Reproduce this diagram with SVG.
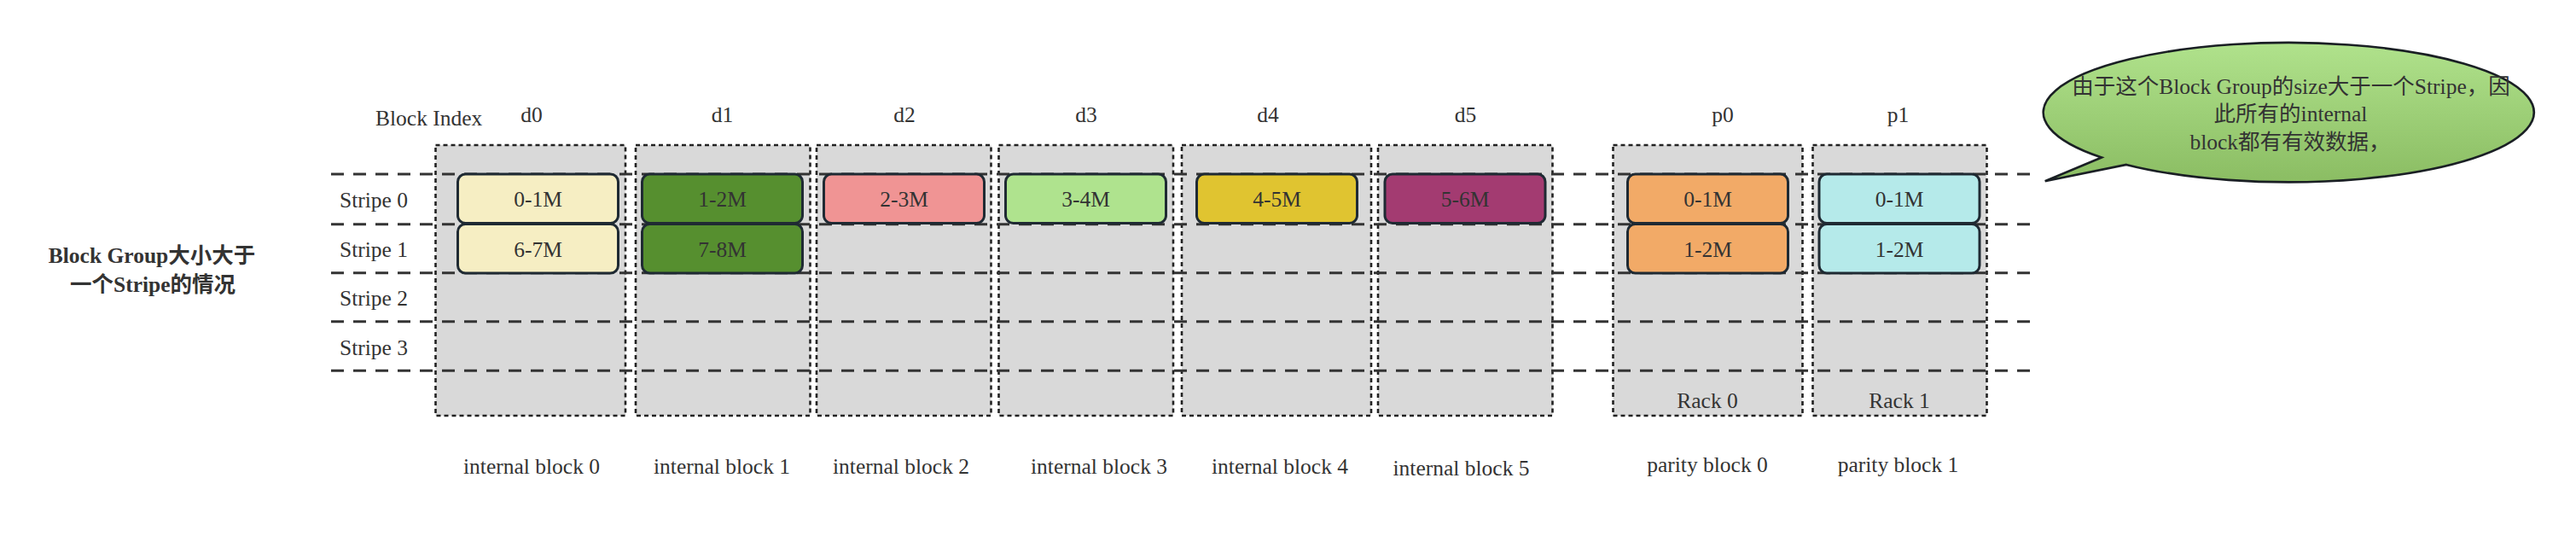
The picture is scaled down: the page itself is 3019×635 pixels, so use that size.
<svg xmlns="http://www.w3.org/2000/svg" width="3019" height="635" viewBox="0 0 3019 635">
<defs>
<linearGradient id="callg" gradientUnits="userSpaceOnUse" x1="0" y1="50" x2="0" y2="213">
<stop offset="0" stop-color="#b0e28c"/>
<stop offset="1" stop-color="#8bbd63"/>
</linearGradient>
<style>
text{font-family:"Liberation Serif","Noto Sans CJK SC",serif;font-size:25.5px;fill:#333;}
.mid{text-anchor:middle;}
.bold{font-weight:bold;}
.col{fill:#d9d9d9;stroke:#222;stroke-width:2.6;stroke-dasharray:5 4;}
.row{stroke:#333;stroke-width:3;stroke-dasharray:15 11;fill:none;}
.box{stroke:#1f2a33;stroke-width:3;}
</style>
</defs>
<rect width="3019" height="635" fill="#fff"/>

<g id="title">
<text class="mid bold" x="178" y="308">Block Group大小大于</text>
<text class="mid bold" x="179" y="341.5">一个Stripe的情况</text>
</g>

<g id="header">
<text x="440" y="146.5">Block Index</text>
<text class="mid" x="623" y="143">d0</text>
<text class="mid" x="846.5" y="143">d1</text>
<text class="mid" x="1060" y="143">d2</text>
<text class="mid" x="1273" y="143">d3</text>
<text class="mid" x="1486" y="143">d4</text>
<text class="mid" x="1717.5" y="143">d5</text>
<text class="mid" x="2019" y="143">p0</text>
<text class="mid" x="2224.5" y="143">p1</text>
</g>

<g id="columns">
<rect id="col-d0" class="col" x="510.5" y="170" width="222.5" height="317"/>
<rect id="col-d1" class="col" x="745" y="170" width="204.5" height="317"/>
<rect id="col-d2" class="col" x="957" y="170" width="204.5" height="317"/>
<rect id="col-d3" class="col" x="1170.5" y="170" width="204.5" height="317"/>
<rect id="col-d4" class="col" x="1385" y="170" width="222" height="317"/>
<rect id="col-d5" class="col" x="1615" y="170" width="204.5" height="317"/>
<rect id="col-p0" class="col" x="1890.5" y="170" width="222" height="317"/>
<rect id="col-p1" class="col" x="2124.5" y="170" width="204" height="317"/>
</g>

<g id="connectors">
<line class="row" x1="388" y1="204" x2="2381" y2="204"/>
<line class="row" x1="388" y1="262.7" x2="2381" y2="262.7"/>
<line class="row" x1="388" y1="319.7" x2="2381" y2="319.7"/>
<line class="row" x1="388" y1="376.7" x2="2381" y2="376.7"/>
<line class="row" x1="388" y1="434.3" x2="2381" y2="434.3"/>
</g>

<g id="stripes">
<text x="398" y="243.3">Stripe 0</text>
<text x="398" y="301">Stripe 1</text>
<text x="398" y="358">Stripe 2</text>
<text x="398" y="415.7">Stripe 3</text>
</g>

<g id="blk-d0-s0"><rect class="box" x="536.5" y="204" width="188" height="57.5" rx="9" fill="#f6eec3"/><text class="mid" x="630.5" y="242">0-1M</text></g>
<g id="blk-d0-s1"><rect class="box" x="536.5" y="262.5" width="188" height="57.5" rx="9" fill="#f6eec3"/><text class="mid" x="630.5" y="300.5">6-7M</text></g>
<g id="blk-d1-s0"><rect class="box" x="752.5" y="204" width="188" height="57.5" rx="9" fill="#568f2f"/><text class="mid" x="846.5" y="242">1-2M</text></g>
<g id="blk-d1-s1"><rect class="box" x="752.5" y="262.5" width="188" height="57.5" rx="9" fill="#568f2f"/><text class="mid" x="846.5" y="300.5">7-8M</text></g>
<g id="blk-d2-s0"><rect class="box" x="965.5" y="204" width="188" height="57.5" rx="9" fill="#f09494"/><text class="mid" x="1059.5" y="242">2-3M</text></g>
<g id="blk-d3-s0"><rect class="box" x="1178.5" y="204" width="188" height="57.5" rx="9" fill="#afe38e"/><text class="mid" x="1272.5" y="242">3-4M</text></g>
<g id="blk-d4-s0"><rect class="box" x="1402.5" y="204" width="188" height="57.5" rx="9" fill="#e0c430"/><text class="mid" x="1496.5" y="242">4-5M</text></g>
<g id="blk-d5-s0"><rect class="box" x="1623" y="204" width="188" height="57.5" rx="9" fill="#a33b71"/><text class="mid" x="1717" y="242">5-6M</text></g>
<g id="blk-p0-s0"><rect class="box" x="1907.5" y="204" width="188" height="57.5" rx="9" fill="#f2aa67"/><text class="mid" x="2001.5" y="242">0-1M</text></g>
<g id="blk-p0-s1"><rect class="box" x="1907.5" y="262.5" width="188" height="57.5" rx="9" fill="#f2aa67"/><text class="mid" x="2001.5" y="300.5">1-2M</text></g>
<g id="blk-p1-s0"><rect class="box" x="2132" y="204" width="188" height="57.5" rx="9" fill="#b5eaea"/><text class="mid" x="2226" y="242">0-1M</text></g>
<g id="blk-p1-s1"><rect class="box" x="2132" y="262.5" width="188" height="57.5" rx="9" fill="#b5eaea"/><text class="mid" x="2226" y="300.5">1-2M</text></g>

<g id="racks">
<text class="mid" x="2001" y="478">Rack 0</text>
<text class="mid" x="2226" y="478">Rack 1</text>
</g>

<g id="footer">
<text class="mid" x="623" y="555">internal block 0</text>
<text class="mid" x="846" y="555">internal block 1</text>
<text class="mid" x="1056" y="555">internal block 2</text>
<text class="mid" x="1288" y="555">internal block 3</text>
<text class="mid" x="1500" y="555">internal block 4</text>
<text class="mid" x="1712.5" y="557">internal block 5</text>
<text class="mid" x="2001" y="553">parity block 0</text>
<text class="mid" x="2224.5" y="553">parity block 1</text>
</g>

<g id="callout">
<path d="M 2463,184.5 L 2396.7,212.3 L 2492,192.9 A 287.5 81.7 0 1 0 2463,184.5 Z" fill="url(#callg)" stroke="#1a1f24" stroke-width="2.6" stroke-linejoin="miter"/>
<text class="mid" x="2685" y="110">由于这个Block Group的size大于一个Stripe，因</text>
<text class="mid" x="2684.5" y="142">此所有的internal</text>
<text class="mid" x="2684" y="175">block都有有效数据，</text>
</g>
</svg>
